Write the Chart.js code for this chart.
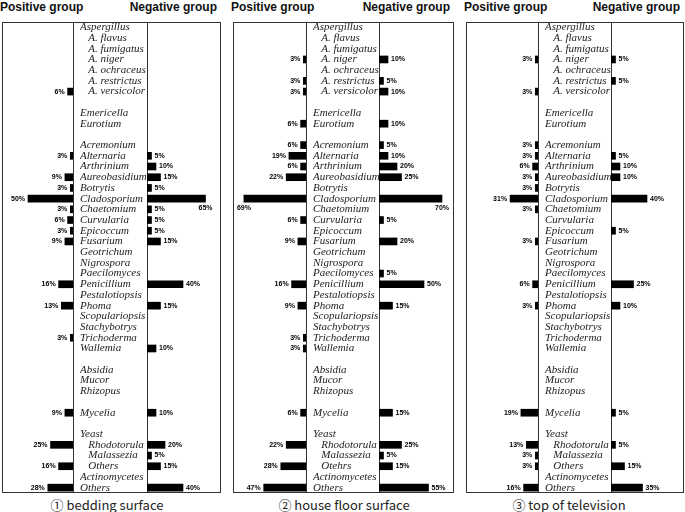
<!DOCTYPE html>
<html>
<head>
<meta charset="utf-8">
<script src="https://cdn.jsdelivr.net/npm/chart.js@4"></script>
<style>
  body { margin: 0; width: 685px; height: 512px; position: relative; overflow: hidden; background: #fff; font-family: Arial, "Liberation Sans", sans-serif; }
  .box { position: absolute; top: 22px; height: 471px; border: 1px solid #333; box-sizing: border-box; }
  .head { position: absolute; top: 0; font-weight: bold; font-size: 12px; line-height: 14px; color: #111; white-space: nowrap; }
  .cap { position: absolute; top: 496px; font-family: "Noto Sans CJK JP", sans-serif; font-size: 13px; line-height: 18px; color: #222; white-space: nowrap; transform: translateX(-50%); }
  canvas { position: absolute; }
</style>
</head>
<body>
<script>
// fungi list (row order of the figure), blanks are spacer rows
const fungi = [
  "Aspergillus", "   A. flavus", "   A. fumigatus", "   A. niger", "   A. ochraceus", "   A. restrictus", "   A. versicolor",
  "", "Emericella", "Eurotium", "",
  "Acremonium", "Alternaria", "Arthrinium", "Aureobasidium", "Botrytis", "Cladosporium", "Chaetomium",
  "Curvularia", "Epicoccum", "Fusarium", "Geotrichum", "Nigrospora", "Paecilomyces", "Penicillium",
  "Pestalotiopsis", "Phoma", "Scopulariopsis", "Stachybotrys", "Trichoderma", "Wallemia",
  "", "Absidia", "Mucor", "Rhizopus", "", "Mycelia", "",
  "Yeast", "   Rhodotorula", "   Malassezia", "   Others", "Actinomycetes", "Others"
];
// the floor panel has "Otehrs" printed for the yeast row
const floorFungi = fungi.map((f, i) => (i === 41 ? "   Otehrs" : f));

// % values, 44 rows each (null = no bar)
const bedPositive = [
  null, null, null, null, null, null, 6, null, null, null, null,
  null, 3, null, 9, 3, 50, 3, 6, 3, 9, null,
  null, null, 16, null, 13, null, null, 3, null, null, null,
  null, null, null, 9, null, null, 25, null, 16, null, 28
];
const bedNegative = [
  null, null, null, null, null, null, null, null, null, null, null,
  null, 5, 10, 15, 5, 65, 5, 5, 5, 15, null,
  null, null, 40, null, 15, null, null, null, 10, null, null,
  null, null, null, 10, null, null, 20, 5, 15, null, 40
];
const floorPositive = [
  null, null, null, 3, null, 3, 3, null, null, 6, null,
  6, 19, 6, 22, null, 69, null, 6, null, 9, null,
  null, null, 16, null, 9, null, null, 3, 3, null, null,
  null, null, null, 6, null, null, 22, null, 28, null, 47
];
const floorNegative = [
  null, null, null, 10, null, 5, 10, null, null, 10, null,
  5, 10, 20, 25, null, 70, null, 5, null, 20, null,
  null, 5, 50, null, 15, null, null, null, null, null, null,
  null, null, null, 15, null, null, 25, 5, 15, null, 55
];
const tvPositive = [
  null, null, null, 3, null, null, 3, null, null, null, null,
  3, 3, 6, 3, 3, 31, 3, null, null, 3, null,
  null, null, 6, null, 3, null, null, null, null, null, null,
  null, null, null, 19, null, null, 13, 3, 3, null, 16
];
const tvNegative = [
  null, null, null, 5, null, 5, null, null, null, null, null,
  null, 5, 10, 10, null, 40, null, null, 5, null, null,
  null, null, 25, null, 10, null, null, null, null, null, null,
  null, null, null, 5, null, null, 5, null, 15, null, 35
];

const captions = ["\u2460 bedding surface", "\u2461 house floor surface", "\u2462 top of television"];

const PX_PER_PCT = 0.9;
const TOP = 22, HEIGHT = 471;

const panels = [
  { boxL: 2, innerL: 73, innerR: 147, boxR: 220, capX: 107, labels: fungi, pos: bedPositive, neg: bedNegative },
  { boxL: 233, innerL: 306, innerR: 379, boxR: 453, capX: 344, labels: floorFungi, pos: floorPositive, neg: floorNegative },
  { boxL: 466, innerL: 538, innerR: 611, boxR: 683, capX: 569, labels: fungi, pos: tvPositive, neg: tvNegative }
];

// percent labels at the bar ends; put under the bar end when there's no room
const valueLabels = {
  id: "valueLabels",
  afterDatasetsDraw(chart, args, opts) {
    const ctx = chart.ctx;
    const area = chart.chartArea;
    const values = chart.data.datasets[0].data;
    const meta = chart.getDatasetMeta(0);
    ctx.save();
    ctx.font = "bold 7px Arial";
    ctx.fillStyle = "#000";
    ctx.textBaseline = "middle";
    meta.data.forEach((bar, i) => {
      if (values[i] == null) return;
      const text = values[i] + "%";
      const w = ctx.measureText(text).width;
      if (opts.side === "left") {
        if (bar.x - 3 - w < area.left) {
          ctx.textAlign = "center";
          ctx.fillText(text, bar.x, bar.y + 9);
        } else {
          ctx.textAlign = "right";
          ctx.fillText(text, bar.x - 3, bar.y);
        }
      } else {
        if (bar.x + 3 + w > area.right) {
          ctx.textAlign = "center";
          ctx.fillText(text, bar.x, bar.y + 9);
        } else {
          ctx.textAlign = "left";
          ctx.fillText(text, bar.x + 3, bar.y);
        }
      }
    });
    ctx.restore();
  }
};

function addDiv(cls, style, text) {
  const d = document.createElement("div");
  d.className = cls;
  Object.assign(d.style, style);
  if (text) d.textContent = text;
  document.body.appendChild(d);
  return d;
}

function addCanvas(left, width) {
  const c = document.createElement("canvas");
  c.width = width;
  c.height = HEIGHT;
  c.style.left = left + "px";
  c.style.top = TOP + "px";
  document.body.appendChild(c);
  return c;
}

panels.forEach((p, k) => {
  addDiv("box", { left: p.boxL + "px", width: (p.boxR - p.boxL + 1) + "px" });
  addDiv("box", { left: p.innerL + "px", width: (p.innerR - p.innerL + 1) + "px", borderTop: "none", borderBottom: "none" });
  addDiv("head", { left: (p.boxL - 2) + "px" }, "Positive group");
  addDiv("head", { right: (685 - p.boxR + 3) + "px" }, "Negative group");
  addDiv("cap", { left: p.capX + "px" }, captions[k]);

  // positive group, growing to the left
  const leftW = p.innerL - p.boxL;
  new Chart(addCanvas(p.boxL, leftW), {
    type: "bar",
    data: {
      labels: p.labels,
      datasets: [{ data: p.pos, backgroundColor: "#000", barThickness: 7 }]
    },
    options: {
      indexAxis: "y",
      responsive: false,
      animation: false,
      layout: { padding: 0 },
      plugins: { legend: { display: false }, tooltip: { enabled: false }, valueLabels: { side: "left" } },
      scales: {
        x: { display: false, reverse: true, min: 0, max: leftW / PX_PER_PCT },
        y: { display: false }
      }
    },
    plugins: [valueLabels]
  });

  // fungus names + negative group, growing to the right
  const nameStart = p.innerL + 7;
  const rightW = p.boxR - p.innerR;
  new Chart(addCanvas(nameStart, p.boxR - nameStart), {
    type: "bar",
    data: {
      labels: p.labels,
      datasets: [{ data: p.neg, backgroundColor: "#000", barThickness: 7 }]
    },
    options: {
      indexAxis: "y",
      responsive: false,
      animation: false,
      layout: { padding: 0 },
      plugins: { legend: { display: false }, tooltip: { enabled: false }, valueLabels: { side: "right" } },
      scales: {
        x: { display: false, min: 0, max: rightW / PX_PER_PCT },
        y: {
          grid: { display: false },
          border: { display: false },
          afterFit(axis) {
            axis.width = p.innerR - nameStart;
            // keep the rows lined up with the left chart
            axis.paddingTop = 0;
            axis.paddingBottom = 0;
          },
          ticks: {
            autoSkip: false,
            crossAlign: "far",
            padding: 0,
            color: "#222",
            font: { family: "Liberation Serif", style: "italic", size: 11 }
          }
        }
      }
    },
    plugins: [valueLabels]
  });
});
</script>
</body>
</html>
